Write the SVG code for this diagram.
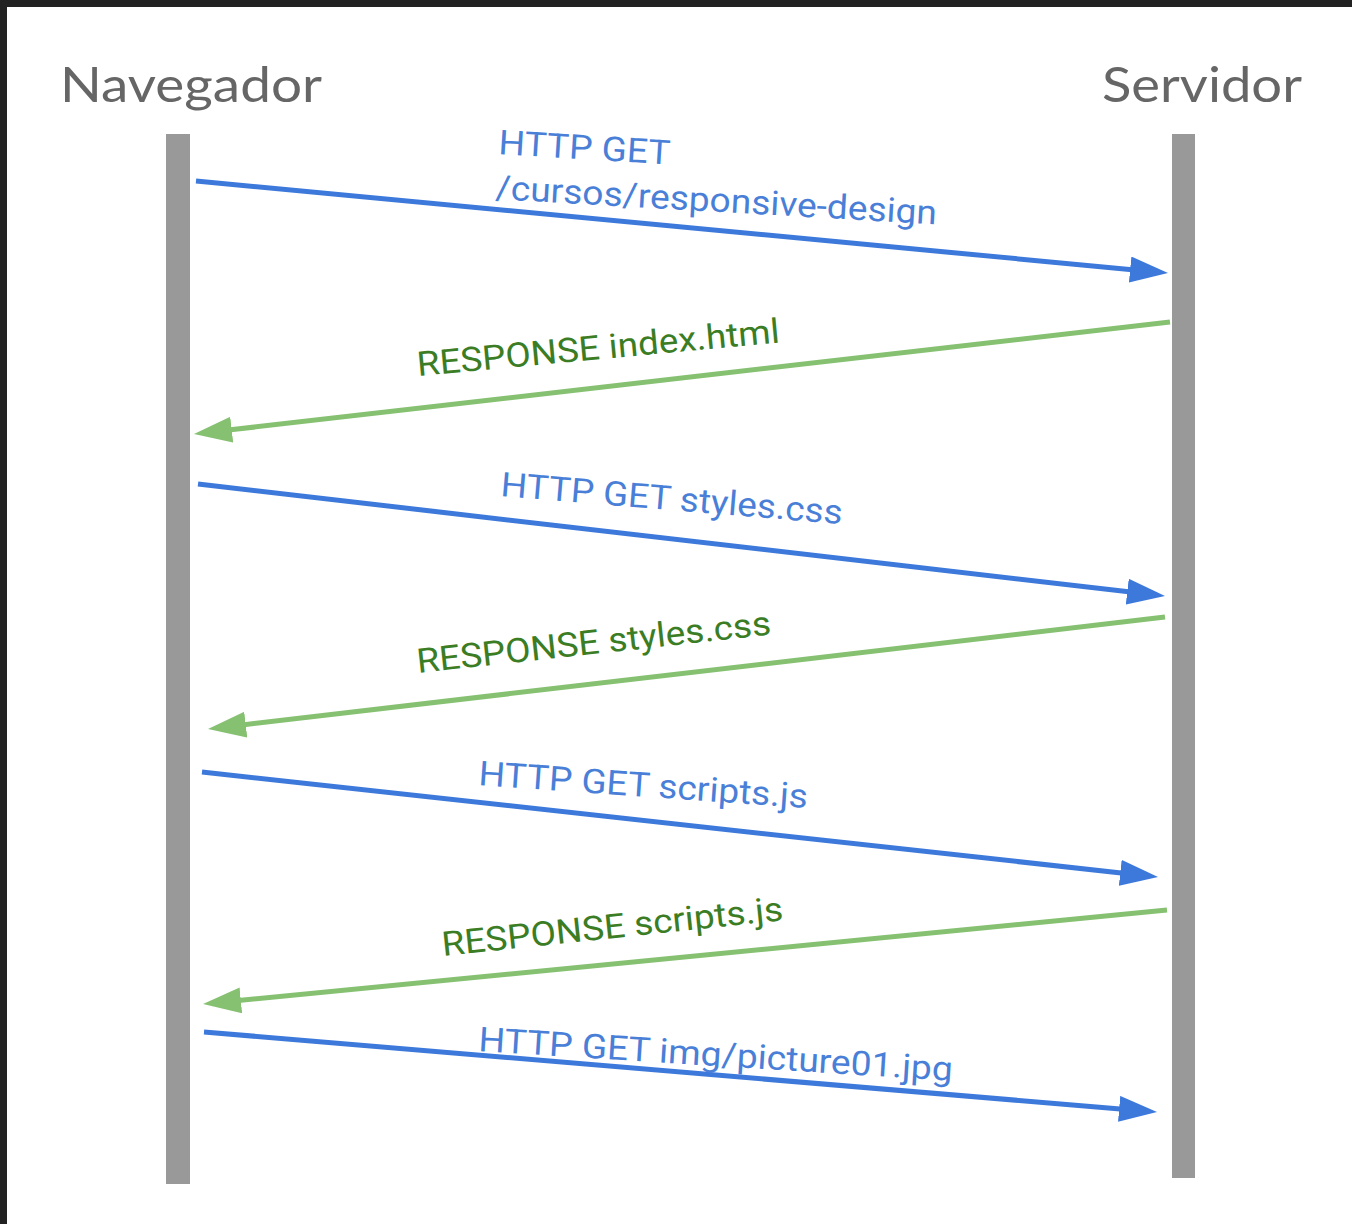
<svg xmlns="http://www.w3.org/2000/svg" width="1352" height="1224" viewBox="0 0 1352 1224">
  <style>
    .actor { font-family: Lato, "Open Sans", sans-serif; font-size: 48px; fill: #666666; }
    .life { fill: #999999; }
    .req { stroke: #3d79db; stroke-width: 5; fill: none; }
    .res { stroke: #86c172; stroke-width: 5; fill: none; }
    .reqt { font-family: Roboto, "Liberation Sans", sans-serif; font-size: 34px; fill: #4a7fd8; }
    .rest { font-family: Roboto, "Liberation Sans", sans-serif; font-size: 34px; fill: #3b7d24; }
  </style>
  <defs>
    <marker id="ab" markerUnits="userSpaceOnUse" markerWidth="40" markerHeight="28" refX="10" refY="13" orient="auto">
      <path d="M0,0 L38,13 L0,26 z" fill="#3d79db"/>
    </marker>
    <marker id="ag" markerUnits="userSpaceOnUse" markerWidth="40" markerHeight="28" refX="10" refY="13" orient="auto">
      <path d="M0,0 L38,13 L0,26 z" fill="#86c172"/>
    </marker>
  </defs>
  <rect x="0" y="0" width="1352" height="1224" fill="#222222"/>
  <rect x="7" y="7" width="1345" height="1217" fill="#ffffff"/>

  <g id="navegador">
    <text class="actor" x="60" y="102" textLength="262" lengthAdjust="spacingAndGlyphs">Navegador</text>
    <rect class="life" x="166" y="134" width="24" height="1050"/>
  </g>
  <g id="servidor">
    <text class="actor" x="1102" y="102" textLength="200" lengthAdjust="spacingAndGlyphs">Servidor</text>
    <rect class="life" x="1172" y="134" width="23" height="1044"/>
  </g>

  <g id="connectors">
    <line class="req" x1="196" y1="181" x2="1140.1" y2="270.4" marker-end="url(#ab)"/>
    <line class="res" x1="1170" y1="322" x2="221.8" y2="430.8" marker-end="url(#ag)"/>
    <line class="req" x1="198" y1="484" x2="1137.2" y2="592.8" marker-end="url(#ab)"/>
    <line class="res" x1="1165" y1="617" x2="235.8" y2="725.7" marker-end="url(#ag)"/>
    <line class="req" x1="202" y1="772" x2="1130.2" y2="873.9" marker-end="url(#ab)"/>
    <line class="res" x1="1167" y1="910" x2="230.9" y2="1001.3" marker-end="url(#ag)"/>
    <line class="req" x1="204" y1="1032" x2="1129.1" y2="1109.7" marker-end="url(#ab)"/>

    <text class="reqt" x="498" y="154" transform="rotate(3.5 498 154)" textLength="172" lengthAdjust="spacingAndGlyphs">HTTP GET</text>
    <text class="reqt" x="495" y="199" transform="rotate(3.3 495 199)" textLength="442" lengthAdjust="spacingAndGlyphs">/cursos/responsive-design</text>
    <text class="rest" x="418" y="376" transform="rotate(-5.3 418 376)" textLength="364" lengthAdjust="spacingAndGlyphs">RESPONSE index.html</text>
    <text class="reqt" x="500" y="496" transform="rotate(4.7 500 496)" textLength="343" lengthAdjust="spacingAndGlyphs">HTTP GET styles.css</text>
    <text class="rest" x="418" y="673" transform="rotate(-6.2 418 673)" textLength="356" lengthAdjust="spacingAndGlyphs">RESPONSE styles.css</text>
    <text class="reqt" x="478" y="785" transform="rotate(4 478 785)" textLength="330" lengthAdjust="spacingAndGlyphs">HTTP GET scripts.js</text>
    <text class="rest" x="443" y="956" transform="rotate(-6 443 956)" textLength="343" lengthAdjust="spacingAndGlyphs">RESPONSE scripts.js</text>
    <text class="reqt" x="478" y="1051" transform="rotate(3.6 478 1051)" textLength="475" lengthAdjust="spacingAndGlyphs">HTTP GET img/picture01.jpg</text>
  </g>
</svg>
